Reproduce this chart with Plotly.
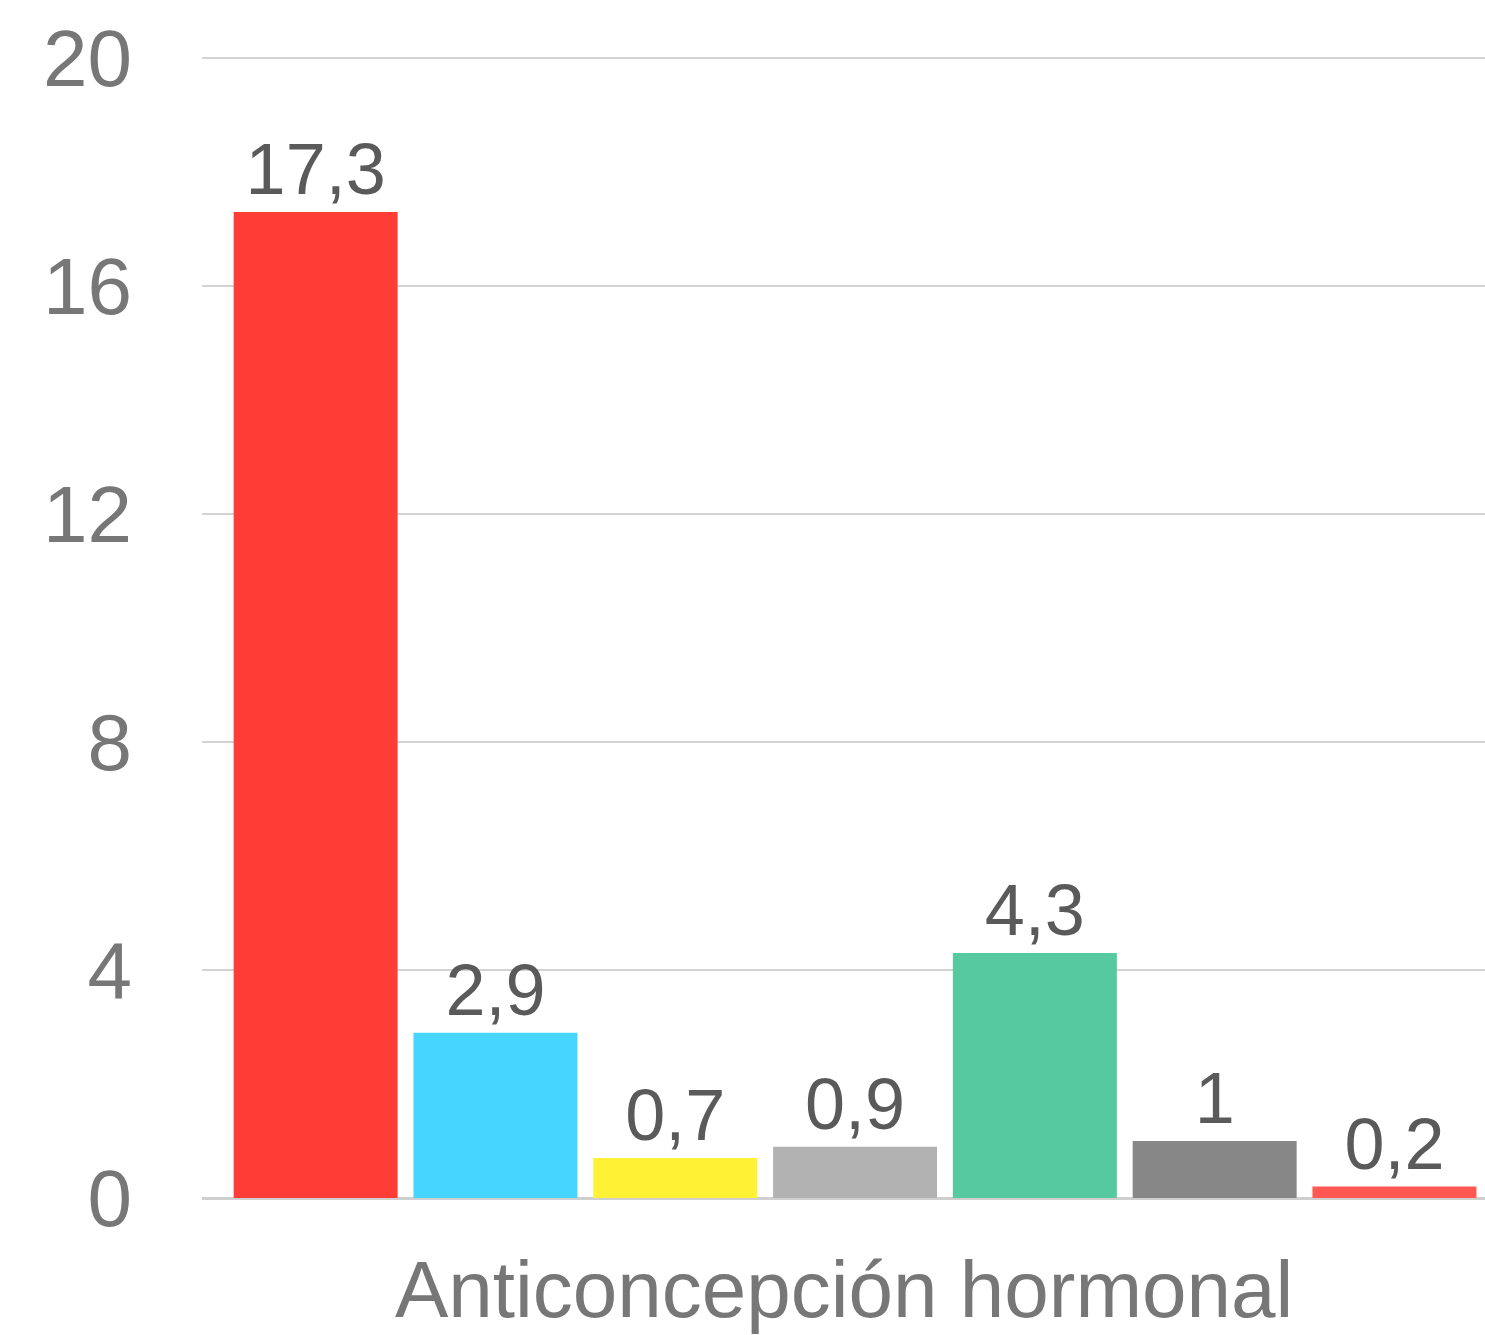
import plotly.graph_objects as go

# Data
category = ["Anticoncepción hormonal"]
series_names = ["Serie 1", "Serie 2", "Serie 3", "Serie 4", "Serie 5", "Serie 6", "Serie 7"]
values = [17.3, 2.9, 0.7, 0.9, 4.3, 1, 0.2]
colors = ["#FF3D36", "#45D5FF", "#FFF133", "#B2B2B2", "#57C9A0", "#878787", "#FF5752"]
y_ticks = [0, 4, 8, 12, 16, 20]


def fmt(v):
    return f"{v:g}".replace(".", ",")


fig = go.Figure()
for name, v, c in zip(series_names, values, colors):
    fig.add_trace(go.Bar(
        x=category,
        y=[v],
        name=name,
        marker=dict(color=c, line=dict(width=0)),
        text=[fmt(v)],
        textposition="outside",
        textfont=dict(family="Liberation Sans, Arial, sans-serif", size=72, color="#5A5A5A"),
        cliponaxis=False,
        hoverinfo="skip",
    ))

fig.update_layout(
    width=1485,
    height=1335,
    margin=dict(l=202, r=0, t=57, b=137),
    paper_bgcolor="white",
    plot_bgcolor="white",
    showlegend=False,
    barmode="group",
    bargap=0.02,
    bargroupgap=0.088,
    font=dict(family="Liberation Sans, Arial, sans-serif", color="#777777"),
    xaxis=dict(
        type="category",
        range=[-0.5085, 0.4905],
        showticklabels=False,
        showgrid=False,
        zeroline=False,
        showline=False,
        ticks="",
    ),
    yaxis=dict(
        range=[0, 20.02],
        tickvals=y_ticks,
        ticktext=[str(t) for t in y_ticks],
        tickfont=dict(size=80, color="#777777"),
        ticklabelstandoff=69,
        showgrid=True,
        gridcolor="#D3D3D3",
        gridwidth=2,
        zeroline=True,
        zerolinecolor="#CFCFCF",
        zerolinewidth=3,
        showline=False,
        ticks="",
    ),
    annotations=[dict(
        text=category[0],
        xref="paper", yref="paper",
        x=0.5, y=0,
        xanchor="center", yanchor="top",
        yshift=-45,
        showarrow=False,
        font=dict(size=80, color="#777777"),
    )],
)

fig.write_html("out.html")
